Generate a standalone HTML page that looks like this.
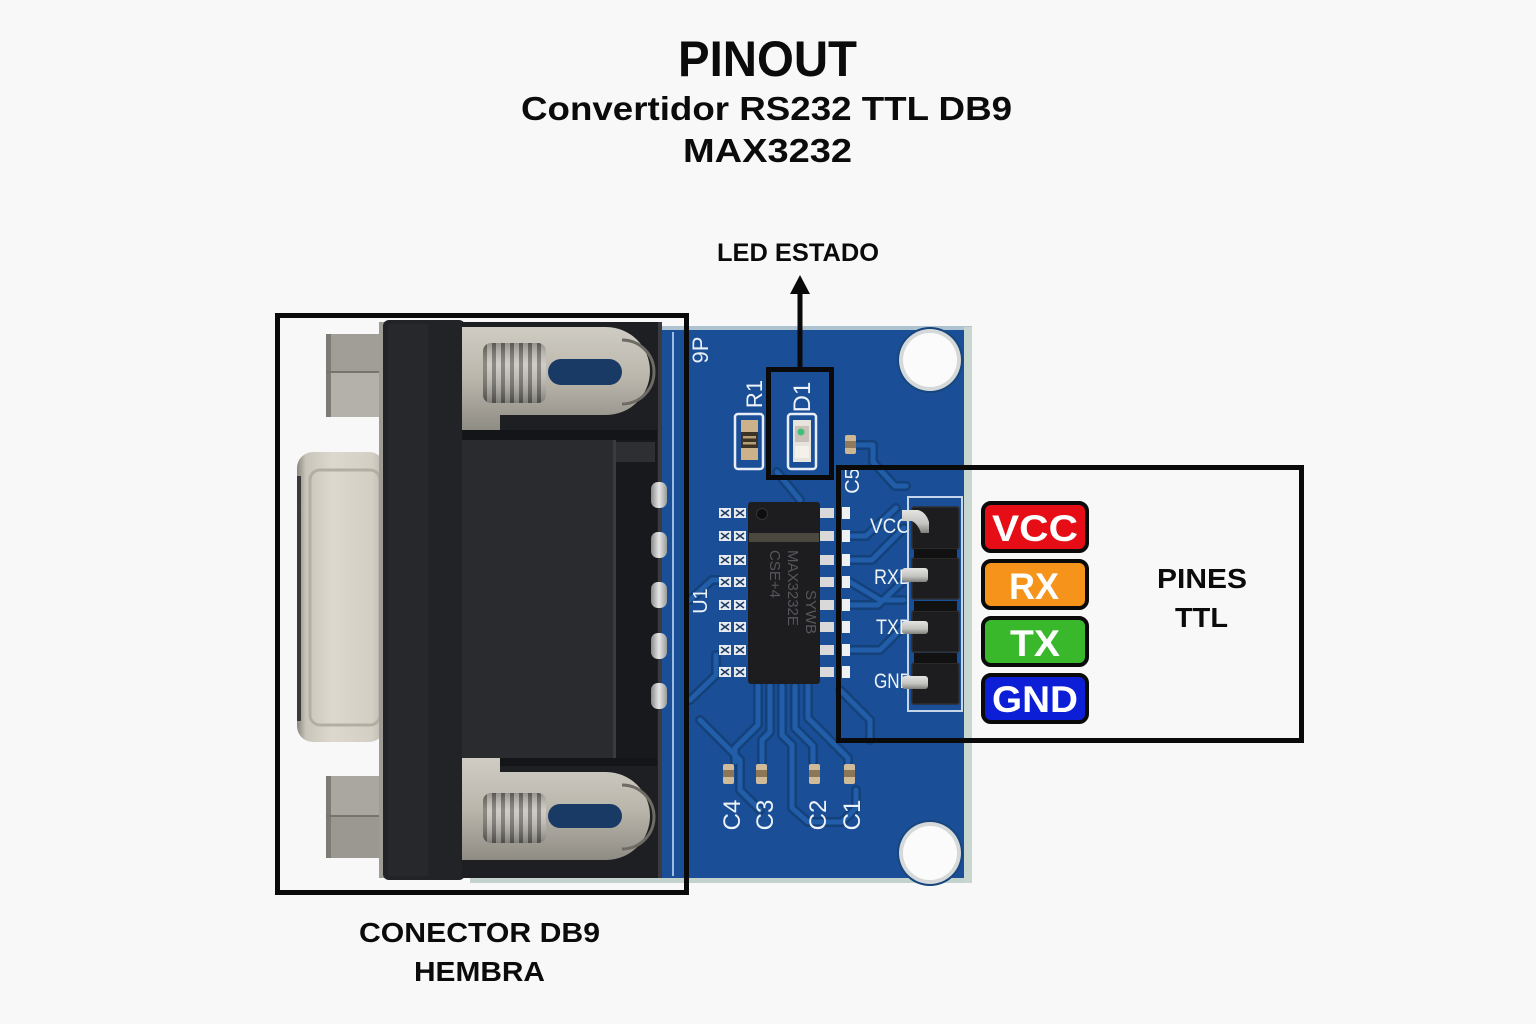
<!DOCTYPE html>
<html><head><meta charset="utf-8"><style>
html,body{margin:0;padding:0;background:#f8f8f9;}
svg{display:block}
text{font-family:"Liberation Sans",sans-serif;}
</style></head><body>
<svg width="1536" height="1024" viewBox="0 0 1536 1024" xmlns="http://www.w3.org/2000/svg">
<defs>
<linearGradient id="shell" x1="0" x2="1" y1="0" y2="0">
 <stop offset="0" stop-color="#8a867e"/>
 <stop offset="0.1" stop-color="#c9c5ba"/>
 <stop offset="0.4" stop-color="#dcd8ce"/>
 <stop offset="0.85" stop-color="#d3cfc4"/>
 <stop offset="1" stop-color="#bdb8ad"/>
</linearGradient>
<linearGradient id="metal" x1="0" x2="0" y1="0" y2="1">
 <stop offset="0" stop-color="#cfccc3"/>
 <stop offset="0.5" stop-color="#bab6ac"/>
 <stop offset="1" stop-color="#8f8c84"/>
</linearGradient>
<linearGradient id="pin" x1="0" x2="1">
 <stop offset="0" stop-color="#8a8a8a"/><stop offset="0.5" stop-color="#e6e6e6"/><stop offset="1" stop-color="#9a9a9a"/>
</linearGradient>
<linearGradient id="hpin" x1="0" x2="0" y1="0" y2="1">
 <stop offset="0" stop-color="#e4e4e2"/><stop offset="0.6" stop-color="#c2c2bf"/><stop offset="1" stop-color="#7f7f7c"/>
</linearGradient>
<linearGradient id="screwshade" x1="0" x2="0" y1="0" y2="1">
 <stop offset="0" stop-color="#000" stop-opacity="0.25"/>
 <stop offset="0.35" stop-color="#fff" stop-opacity="0.15"/>
 <stop offset="1" stop-color="#000" stop-opacity="0.35"/>
</linearGradient>
<pattern id="thread" width="9" height="10" patternUnits="userSpaceOnUse">
 <rect width="9" height="10" fill="#77746d"/>
 <rect x="1" width="5" height="10" fill="#c6c3ba"/>
</pattern>
</defs>

<rect width="1536" height="1024" fill="#f8f8f9"/>

<!-- Titles -->
<text x="678" y="76" font-size="50" font-weight="bold" textLength="179" lengthAdjust="spacingAndGlyphs" fill="#0b0b0b">PINOUT</text>
<text x="521" y="120" font-size="33" font-weight="bold" textLength="491" lengthAdjust="spacingAndGlyphs" fill="#0b0b0b">Convertidor RS232 TTL DB9</text>
<text x="683" y="162" font-size="33" font-weight="bold" textLength="169" lengthAdjust="spacingAndGlyphs" fill="#0b0b0b">MAX3232</text>
<text x="717" y="261" font-size="25" font-weight="bold" textLength="162" lengthAdjust="spacingAndGlyphs" fill="#0b0b0b">LED ESTADO</text>

<!-- PCB board -->
<rect x="470" y="327" width="502" height="556" fill="#1a4f98"/>
<rect x="470" y="326" width="502" height="4" fill="#aec3cf"/>
<rect x="470" y="878" width="502" height="5" fill="#c3d2cd"/>
<rect x="964" y="327" width="8" height="556" fill="#c8d6d0"/>

<!-- traces -->
<g fill="none" stroke="#14417a" stroke-width="10" stroke-linejoin="round" stroke-linecap="round">
 <path d="M777 472 L800 500"/>
 <path d="M857 445 H873 V462 L895 486 H906"/>
 <path d="M850 536 H866 L896 508"/>
 <path d="M850 560 H872 L904 528"/>
 <path d="M850 582 L880 600 H904"/>
 <path d="M850 605 H878 L902 582"/>
 <path d="M850 650 H880 L902 628"/>
 <path d="M758 686 V725 L735 748 V762"/>
 <path d="M770 686 V732 L762 740 V762"/>
 <path d="M782 686 V735 L792 745 V808 L808 822 H842 L856 808 V790"/>
 <path d="M795 686 V728 L813 746 V762"/>
 <path d="M808 686 V718 L848 758 V762"/>
 <path d="M690 600 L712 580 H718"/>
 <path d="M690 700 L716 675 V655"/>
 <path d="M700 720 L740 760 V790 L760 810"/>
 <path d="M840 690 L870 720 V740"/>
</g>
<g fill="none" stroke="#215da8" stroke-width="5" stroke-linejoin="round" stroke-linecap="round">
 <path d="M777 472 L800 500"/>
 <path d="M857 445 H873 V462 L895 486 H906"/>
 <path d="M850 536 H866 L896 508"/>
 <path d="M850 560 H872 L904 528"/>
 <path d="M850 582 L880 600 H904"/>
 <path d="M850 605 H878 L902 582"/>
 <path d="M850 650 H880 L902 628"/>
 <path d="M758 686 V725 L735 748 V762"/>
 <path d="M770 686 V732 L762 740 V762"/>
 <path d="M782 686 V735 L792 745 V808 L808 822 H842 L856 808 V790"/>
 <path d="M795 686 V728 L813 746 V762"/>
 <path d="M808 686 V718 L848 758 V762"/>
 <path d="M690 600 L712 580 H718"/>
 <path d="M690 700 L716 675 V655"/>
 <path d="M700 720 L740 760 V790 L760 810"/>
 <path d="M840 690 L870 720 V740"/>
</g>

<!-- mounting holes -->
<circle cx="930" cy="360" r="33" fill="#17467f"/>
<circle cx="930" cy="360" r="31" fill="#d6d9d9"/>
<circle cx="930" cy="360" r="27" fill="#fbfbfb"/>
<circle cx="930" cy="853" r="33" fill="#17467f"/>
<circle cx="930" cy="853" r="31" fill="#d6d9d9"/>
<circle cx="930" cy="853" r="27" fill="#fbfbfb"/>

<!-- silkscreen line near connector -->
<line x1="673" y1="332" x2="673" y2="876" stroke="#9cbce0" stroke-width="2"/>
<text transform="translate(708,350) rotate(-90)" text-anchor="middle" font-size="22" fill="#e8eef6">9P</text>

<!-- R1 -->
<text transform="translate(762,394) rotate(-90)" text-anchor="middle" font-size="22" fill="#eef3f8">R1</text>
<rect x="735" y="414" width="28" height="55" rx="3" fill="none" stroke="#e8eef6" stroke-width="2.5"/>
<rect x="741" y="420" width="17" height="40" fill="#cbb28a"/>
<rect x="741" y="432" width="17" height="16" fill="#3b3326"/>
<rect x="743" y="436" width="13" height="2.5" fill="#b79f78"/>
<rect x="743" y="442" width="13" height="2.5" fill="#b79f78"/>

<!-- D1 -->
<text transform="translate(810,397) rotate(-90)" text-anchor="middle" font-size="24" fill="#eef3f8">D1</text>
<rect x="788" y="414" width="28" height="55" rx="3" fill="none" stroke="#e8eef6" stroke-width="2.5"/>
<rect x="793" y="420" width="18" height="42" fill="#e6e4dc"/>
<rect x="795" y="426" width="14" height="16" fill="#c9c0b8"/>
<circle cx="801" cy="432" r="3.5" fill="#3fbf7a"/>
<rect x="795" y="446" width="14" height="12" fill="#f3f1ea"/>

<!-- small cap near D1 -->
<rect x="845" y="435" width="11" height="19" rx="2" fill="#cdb793"/>
<rect x="845" y="441" width="11" height="7" fill="#8f7b5c"/>
<text transform="translate(859,481) rotate(-90)" text-anchor="middle" font-size="20" fill="#eef3f8">C5</text>

<!-- U1 -->
<text transform="translate(707,601) rotate(-90)" text-anchor="middle" font-size="20" fill="#eef3f8">U1</text>

<!-- IC left pads -->
<g fill="#e8ecf0">
 <rect x="719" y="508" width="12" height="10"/><rect x="734" y="508" width="12" height="10"/>
 <rect x="719" y="531" width="12" height="10"/><rect x="734" y="531" width="12" height="10"/>
 <rect x="719" y="555" width="12" height="10"/><rect x="734" y="555" width="12" height="10"/>
 <rect x="719" y="577" width="12" height="10"/><rect x="734" y="577" width="12" height="10"/>
 <rect x="719" y="600" width="12" height="10"/><rect x="734" y="600" width="12" height="10"/>
 <rect x="719" y="622" width="12" height="10"/><rect x="734" y="622" width="12" height="10"/>
 <rect x="719" y="645" width="12" height="10"/><rect x="734" y="645" width="12" height="10"/>
 <rect x="719" y="667" width="12" height="10"/><rect x="734" y="667" width="12" height="10"/>
</g>
<g stroke="#1c3c66" stroke-width="1.6">
 <path d="M721 510 l8 6 M729 510 l-8 6 M736 510 l8 6 M744 510 l-8 6"/>
 <path d="M721 533 l8 6 M729 533 l-8 6 M736 533 l8 6 M744 533 l-8 6"/>
 <path d="M721 557 l8 6 M729 557 l-8 6 M736 557 l8 6 M744 557 l-8 6"/>
 <path d="M721 579 l8 6 M729 579 l-8 6 M736 579 l8 6 M744 579 l-8 6"/>
 <path d="M721 602 l8 6 M729 602 l-8 6 M736 602 l8 6 M744 602 l-8 6"/>
 <path d="M721 624 l8 6 M729 624 l-8 6 M736 624 l8 6 M744 624 l-8 6"/>
 <path d="M721 647 l8 6 M729 647 l-8 6 M736 647 l8 6 M744 647 l-8 6"/>
 <path d="M721 669 l8 6 M729 669 l-8 6 M736 669 l8 6 M744 669 l-8 6"/>
</g>

<!-- IC right pins -->
<g fill="#d9d9d9">
 <rect x="818" y="508" width="16" height="10"/><rect x="818" y="531" width="16" height="10"/>
 <rect x="818" y="555" width="16" height="10"/><rect x="818" y="577" width="16" height="10"/>
 <rect x="818" y="600" width="16" height="10"/><rect x="818" y="622" width="16" height="10"/>
 <rect x="818" y="645" width="16" height="10"/><rect x="818" y="667" width="16" height="10"/>
</g>
<g fill="#eef0f2">
 <rect x="842" y="507" width="8" height="12"/><rect x="842" y="530" width="8" height="12"/>
 <rect x="842" y="554" width="8" height="12"/><rect x="842" y="576" width="8" height="12"/>
 <rect x="842" y="599" width="8" height="12"/><rect x="842" y="621" width="8" height="12"/>
 <rect x="842" y="644" width="8" height="12"/><rect x="842" y="666" width="8" height="12"/>
</g>

<!-- IC body -->
<rect x="748" y="502" width="72" height="182" rx="3" fill="#1d1d20"/>
<rect x="749" y="533" width="70" height="9" fill="#4b483f"/>
<circle cx="762" cy="514" r="5.5" fill="#0e0e10" stroke="#333" stroke-width="1"/>
<g fill="#56575b" font-size="15">
 <text transform="translate(788,550) rotate(90)">MAX3232E</text>
 <text transform="translate(770,550) rotate(90)">CSE+4</text>
 <text transform="translate(806,590) rotate(90)">SYWB</text>
</g>

<!-- bottom caps -->
<g>
 <rect x="723" y="764" width="11" height="20" rx="2" fill="#d0bb98"/><rect x="723" y="770" width="11" height="7" fill="#8b7757"/>
 <rect x="756" y="764" width="11" height="20" rx="2" fill="#d0bb98"/><rect x="756" y="770" width="11" height="7" fill="#8b7757"/>
 <rect x="809" y="764" width="11" height="20" rx="2" fill="#d0bb98"/><rect x="809" y="770" width="11" height="7" fill="#8b7757"/>
 <rect x="844" y="764" width="11" height="20" rx="2" fill="#d0bb98"/><rect x="844" y="770" width="11" height="7" fill="#8b7757"/>
</g>
<g fill="#eef3f8" font-size="24" text-anchor="middle">
 <text transform="translate(740,815) rotate(-90)">C4</text>
 <text transform="translate(773,815) rotate(-90)">C3</text>
 <text transform="translate(826,815) rotate(-90)">C2</text>
 <text transform="translate(860,815) rotate(-90)">C1</text>
</g>

<!-- header labels -->
<g fill="#eef3f8" font-size="21">
 <text x="870" y="533" textLength="40" lengthAdjust="spacingAndGlyphs">VCC</text>
 <text x="874" y="584" textLength="38" lengthAdjust="spacingAndGlyphs">RXD</text>
 <text x="876" y="634" textLength="36" lengthAdjust="spacingAndGlyphs">TXD</text>
 <text x="874" y="688" textLength="38" lengthAdjust="spacingAndGlyphs">GND</text>
</g>

<!-- header -->
<rect x="908" y="497" width="54" height="214" fill="none" stroke="#c6d6ea" stroke-width="2"/>
<g fill="#1d1d1f" stroke="#2e2e31" stroke-width="1.5">
 <rect x="912" y="507" width="47" height="42" rx="2"/>
 <rect x="912" y="558" width="47" height="41" rx="2"/>
 <rect x="912" y="611" width="47" height="41" rx="2"/>
 <rect x="912" y="663" width="47" height="41" rx="2"/>
</g>
<g fill="#111">
 <rect x="914" y="549" width="43" height="9"/>
 <rect x="914" y="601" width="43" height="10"/>
 <rect x="914" y="653" width="43" height="10"/>
</g>
<path d="M902 510 H918 Q926 512 929 522 V533 H921 Q918 524 912 521 H902 Z" fill="url(#hpin)"/>
<rect x="902" y="568" width="26" height="14" rx="3" fill="url(#hpin)"/>
<rect x="902" y="621" width="26" height="13" rx="3" fill="url(#hpin)"/>
<rect x="902" y="676" width="26" height="13" rx="3" fill="url(#hpin)"/>

<!-- ===== DB9 connector ===== -->
<!-- standoffs -->
<rect x="326" y="334" width="56" height="38" fill="#a19e97"/>
<rect x="326" y="372" width="56" height="45" fill="#b4b1aa"/>
<rect x="326" y="334" width="5" height="83" fill="#7e7b75"/>
<line x1="326" y1="372" x2="382" y2="372" stroke="#77746e" stroke-width="2"/>
<rect x="326" y="776" width="56" height="40" fill="#aaa7a0"/>
<rect x="326" y="816" width="56" height="42" fill="#9b9891"/>
<rect x="326" y="776" width="5" height="82" fill="#7e7b75"/>
<line x1="326" y1="816" x2="382" y2="816" stroke="#77746e" stroke-width="2"/>

<!-- shell -->
<rect x="297" y="452" width="88" height="290" rx="16" fill="url(#shell)"/>
<rect x="310" y="470" width="70" height="255" rx="10" fill="none" stroke="#b3aea2" stroke-width="3"/>
<rect x="297" y="476" width="4" height="245" fill="#3a3a3c"/>

<!-- flange -->
<rect x="379" y="322" width="6" height="556" fill="#9f9c95"/>
<rect x="383" y="320" width="82" height="560" rx="6" fill="#222327"/>
<rect x="388" y="324" width="40" height="552" fill="#27282c"/>

<!-- body -->
<rect x="462" y="322" width="200" height="556" fill="#1e1f22"/>
<rect x="462" y="440" width="155" height="318" fill="#2a2b2f"/>
<rect x="613" y="440" width="44" height="318" fill="#18191c"/>
<rect x="615" y="442" width="40" height="20" fill="#2e2f33"/>
<rect x="613" y="440" width="3" height="318" fill="#3a3b40"/>
<rect x="462" y="430" width="195" height="10" fill="#141518"/>
<rect x="462" y="758" width="195" height="8" fill="#141518"/>
<rect x="658" y="322" width="4" height="556" fill="#3a3b40"/>

<!-- DB9 pins -->
<g fill="url(#pin)">
 <rect x="651" y="482" width="16" height="26" rx="7"/>
 <rect x="651" y="532" width="16" height="26" rx="7"/>
 <rect x="651" y="582" width="16" height="26" rx="7"/>
 <rect x="651" y="633" width="16" height="26" rx="7"/>
 <rect x="651" y="683" width="16" height="26" rx="7"/>
</g>

<!-- top bracket -->
<path d="M462 327 H606 A44 44 0 0 1 606 415 H500 V430 H462 Z" fill="url(#metal)"/>
<rect x="548" y="359" width="74" height="26" rx="13" fill="#1a3a66"/>
<path d="M622 340 A32 32 0 0 1 622 404" fill="none" stroke="#6e6b64" stroke-width="3"/>
<rect x="483" y="343" width="63" height="60" rx="8" fill="url(#thread)"/>
<rect x="483" y="343" width="63" height="60" rx="8" fill="url(#screwshade)"/>

<!-- bottom bracket -->
<path d="M462 758 H500 V772 H606 A44 44 0 0 1 606 860 H462 Z" fill="url(#metal)"/>
<rect x="548" y="804" width="74" height="24" rx="12" fill="#1a3a66"/>
<path d="M622 785 A32 32 0 0 1 622 849" fill="none" stroke="#6e6b64" stroke-width="3"/>
<rect x="483" y="793" width="63" height="50" rx="8" fill="url(#thread)"/>
<rect x="483" y="793" width="63" height="50" rx="8" fill="url(#screwshade)"/>

<!-- ===== annotation boxes ===== -->
<rect x="277.5" y="315.5" width="409" height="577" fill="none" stroke="#0a0a0a" stroke-width="5"/>
<rect x="768.5" y="369.5" width="63" height="108" fill="none" stroke="#0a0a0a" stroke-width="5"/>
<rect x="838.5" y="467.5" width="463" height="273" fill="none" stroke="#0a0a0a" stroke-width="5"/>

<!-- arrow -->
<line x1="800" y1="369" x2="800" y2="290" stroke="#0a0a0a" stroke-width="5"/>
<polygon points="800,275 790,294 810,294" fill="#0a0a0a"/>

<!-- pin labels -->
<rect x="983" y="503" width="104" height="48" rx="8" fill="#e60d16" stroke="#0a0a0a" stroke-width="4"/>
<rect x="983" y="561" width="104" height="47" rx="8" fill="#f5931b" stroke="#0a0a0a" stroke-width="4"/>
<rect x="983" y="618" width="104" height="47" rx="8" fill="#3ab82c" stroke="#0a0a0a" stroke-width="4"/>
<rect x="983" y="675" width="104" height="47" rx="8" fill="#0d1fd6" stroke="#0a0a0a" stroke-width="4"/>
<g fill="#ffffff" font-weight="bold" font-size="37" text-anchor="middle">
 <text x="1035" y="541" textLength="86" lengthAdjust="spacingAndGlyphs">VCC</text>
 <text x="1034" y="599" textLength="50" lengthAdjust="spacingAndGlyphs">RX</text>
 <text x="1035" y="656" textLength="50" lengthAdjust="spacingAndGlyphs">TX</text>
 <text x="1035" y="712" textLength="86" lengthAdjust="spacingAndGlyphs">GND</text>
</g>

<text x="1157" y="588" font-size="28" font-weight="bold" textLength="90" lengthAdjust="spacingAndGlyphs" fill="#0b0b0b">PINES</text>
<text x="1175" y="627" font-size="28" font-weight="bold" textLength="53" lengthAdjust="spacingAndGlyphs" fill="#0b0b0b">TTL</text>

<text x="359" y="942" font-size="28" font-weight="bold" textLength="241" lengthAdjust="spacingAndGlyphs" fill="#0b0b0b">CONECTOR DB9</text>
<text x="414" y="981" font-size="28" font-weight="bold" textLength="131" lengthAdjust="spacingAndGlyphs" fill="#0b0b0b">HEMBRA</text>

</svg>
</body></html>
